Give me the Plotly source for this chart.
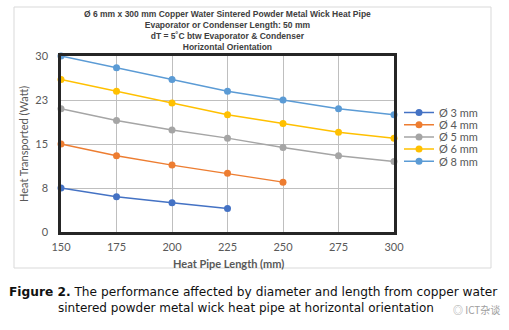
import plotly.graph_objects as go

# Heat pipe length (mm) on the x axis
lengths = [150, 175, 200, 225, 250, 275, 300]

# Heat transported (W) for each pipe diameter
q_3mm = [7.5, 6.0, 5.0, 4.0]
q_4mm = [15.0, 13.0, 11.4, 10.0, 8.5]
q_5mm = [21.0, 19.0, 17.4, 16.0, 14.4, 13.0, 12.0]
q_6mm = [26.0, 24.0, 22.0, 20.0, 18.5, 17.0, 16.0]
q_8mm = [30.0, 28.0, 26.0, 24.0, 22.5, 21.0, 20.0]

series_names = ["Ø 3 mm", "Ø 4 mm", "Ø 5 mm", "Ø 6 mm", "Ø 8 mm"]
series_values = [q_3mm, q_4mm, q_5mm, q_6mm, q_8mm]
series_colors = ["#4472C4", "#ED7D31", "#A5A5A5", "#FFC000", "#5B9BD5"]

y_tick_vals = [0, 7.5, 15, 22.5, 30]
y_tick_text = ["0", "8", "15", "23", "30"]
x_tick_vals = [150, 175, 200, 225, 250, 275, 300]

title_lines = [
    "Ø 6 mm x 300 mm Copper Water Sintered Powder Metal Wick Heat Pipe",
    "Evaporator or Condenser Length: 50 mm",
    "dT = 5˚C btw Evaporator & Condenser",
    "Horizontal Orientation",
]

W, H = 509, 330
L, R, T, B = 61, 394, 56, 232
pw, ph = R - L, B - T


def px(x):
    return (x - L) / pw


def py(y):
    return (B - y) / ph


legend_font = dict(family="Lato, Open Sans, sans-serif", size=11, color="#595959")
tick_font = dict(family="Lato, Open Sans, sans-serif", size=11, color="#595959")

fig = go.Figure()
legend_layouts = {}
for i, (name, vals, col) in enumerate(zip(series_names, series_values, series_colors)):
    key = "legend" if i == 0 else f"legend{i + 1}"
    fig.add_trace(go.Scatter(
        x=lengths[:len(vals)], y=vals, name=name, mode="lines+markers",
        line=dict(color=col, width=1.5),
        marker=dict(color=col, size=7),
        cliponaxis=False, legend=key,
    ))
    # one small legend per series, stacked at a tight pitch
    legend_layouts[key] = dict(
        x=px(399), y=py(112.5 + 12.2 * i), xanchor="left", yanchor="middle",
        font=legend_font, bgcolor="rgba(0,0,0,0)", itemwidth=30,
        borderwidth=0,
    )

fig.update_layout(
    width=W, height=H,
    margin=dict(l=L, r=W - R, t=T, b=H - B),
    paper_bgcolor="white", plot_bgcolor="white",
    showlegend=True,
    xaxis=dict(
        range=[150, 300], tickvals=x_tick_vals, ticks="",
        showgrid=True, gridcolor="#BFBFBF", gridwidth=1,
        showline=True, linecolor="#262626", linewidth=2.5, mirror=True,
        zeroline=False, tickfont=tick_font, ticklabelstandoff=3,
    ),
    yaxis=dict(
        range=[0, 30], tickvals=y_tick_vals, ticktext=y_tick_text, ticks="",
        showgrid=True, gridcolor="#BFBFBF", gridwidth=1,
        showline=True, linecolor="#262626", linewidth=2.5, mirror=True,
        zeroline=False, tickfont=tick_font, ticklabelstandoff=8,
    ),
    shapes=[dict(
        type="rect", xref="paper", yref="paper",
        x0=px(14), x1=px(491), y0=py(268), y1=py(7),
        line=dict(color="#D9D9D9", width=1), fillcolor="rgba(0,0,0,0)",
        layer="below",
    )],
    **legend_layouts,
)

annotations = []
annotations.append(dict(
    text="<br>".join(f"<b>{t}</b>" for t in title_lines), xref="paper", yref="paper",
    x=px(227), y=py(7), xanchor="center", yanchor="top", showarrow=False,
    font=dict(family="Liberation Sans, Arial, sans-serif", size=8.5, color="#404040"),
    align="center",
))
annotations.append(dict(
    text="Heat Transported (Watt)", xref="paper", yref="paper",
    x=px(23), y=py(144), textangle=-90, showarrow=False,
    xanchor="center", yanchor="middle",
    font=dict(family="Lato, Open Sans, sans-serif", size=11, color="#595959"),
))
annotations.append(dict(
    text="<b>Heat Pipe Length (mm)</b>", xref="paper", yref="paper",
    x=px(228), y=py(263), showarrow=False, xanchor="center", yanchor="middle",
    font=dict(family="Lato, Open Sans, sans-serif", size=11, color="#595959"),
))
annotations.append(dict(
    text="<b>Figure 2.</b> The performance affected by diameter and length from copper water",
    xref="paper", yref="paper", x=px(253), y=py(292), showarrow=False,
    xanchor="center", yanchor="middle",
    font=dict(family="DejaVu Sans, sans-serif", size=12.2, color="#111111"),
))
annotations.append(dict(
    text="sintered powder metal wick heat pipe at horizontal orientation",
    xref="paper", yref="paper", x=px(56), y=py(308), showarrow=False,
    xanchor="left", yanchor="middle",
    font=dict(family="DejaVu Sans, sans-serif", size=12, color="#111111"),
))
annotations.append(dict(
    text="◎ ICT杂谈", xref="paper", yref="paper", x=px(502), y=py(309),
    showarrow=False, xanchor="right", yanchor="middle",
    font=dict(family="Noto Sans CJK SC, sans-serif", size=10, color="#a0a0a0"),
))
fig.update_layout(annotations=annotations)

fig.write_html("out.html")
